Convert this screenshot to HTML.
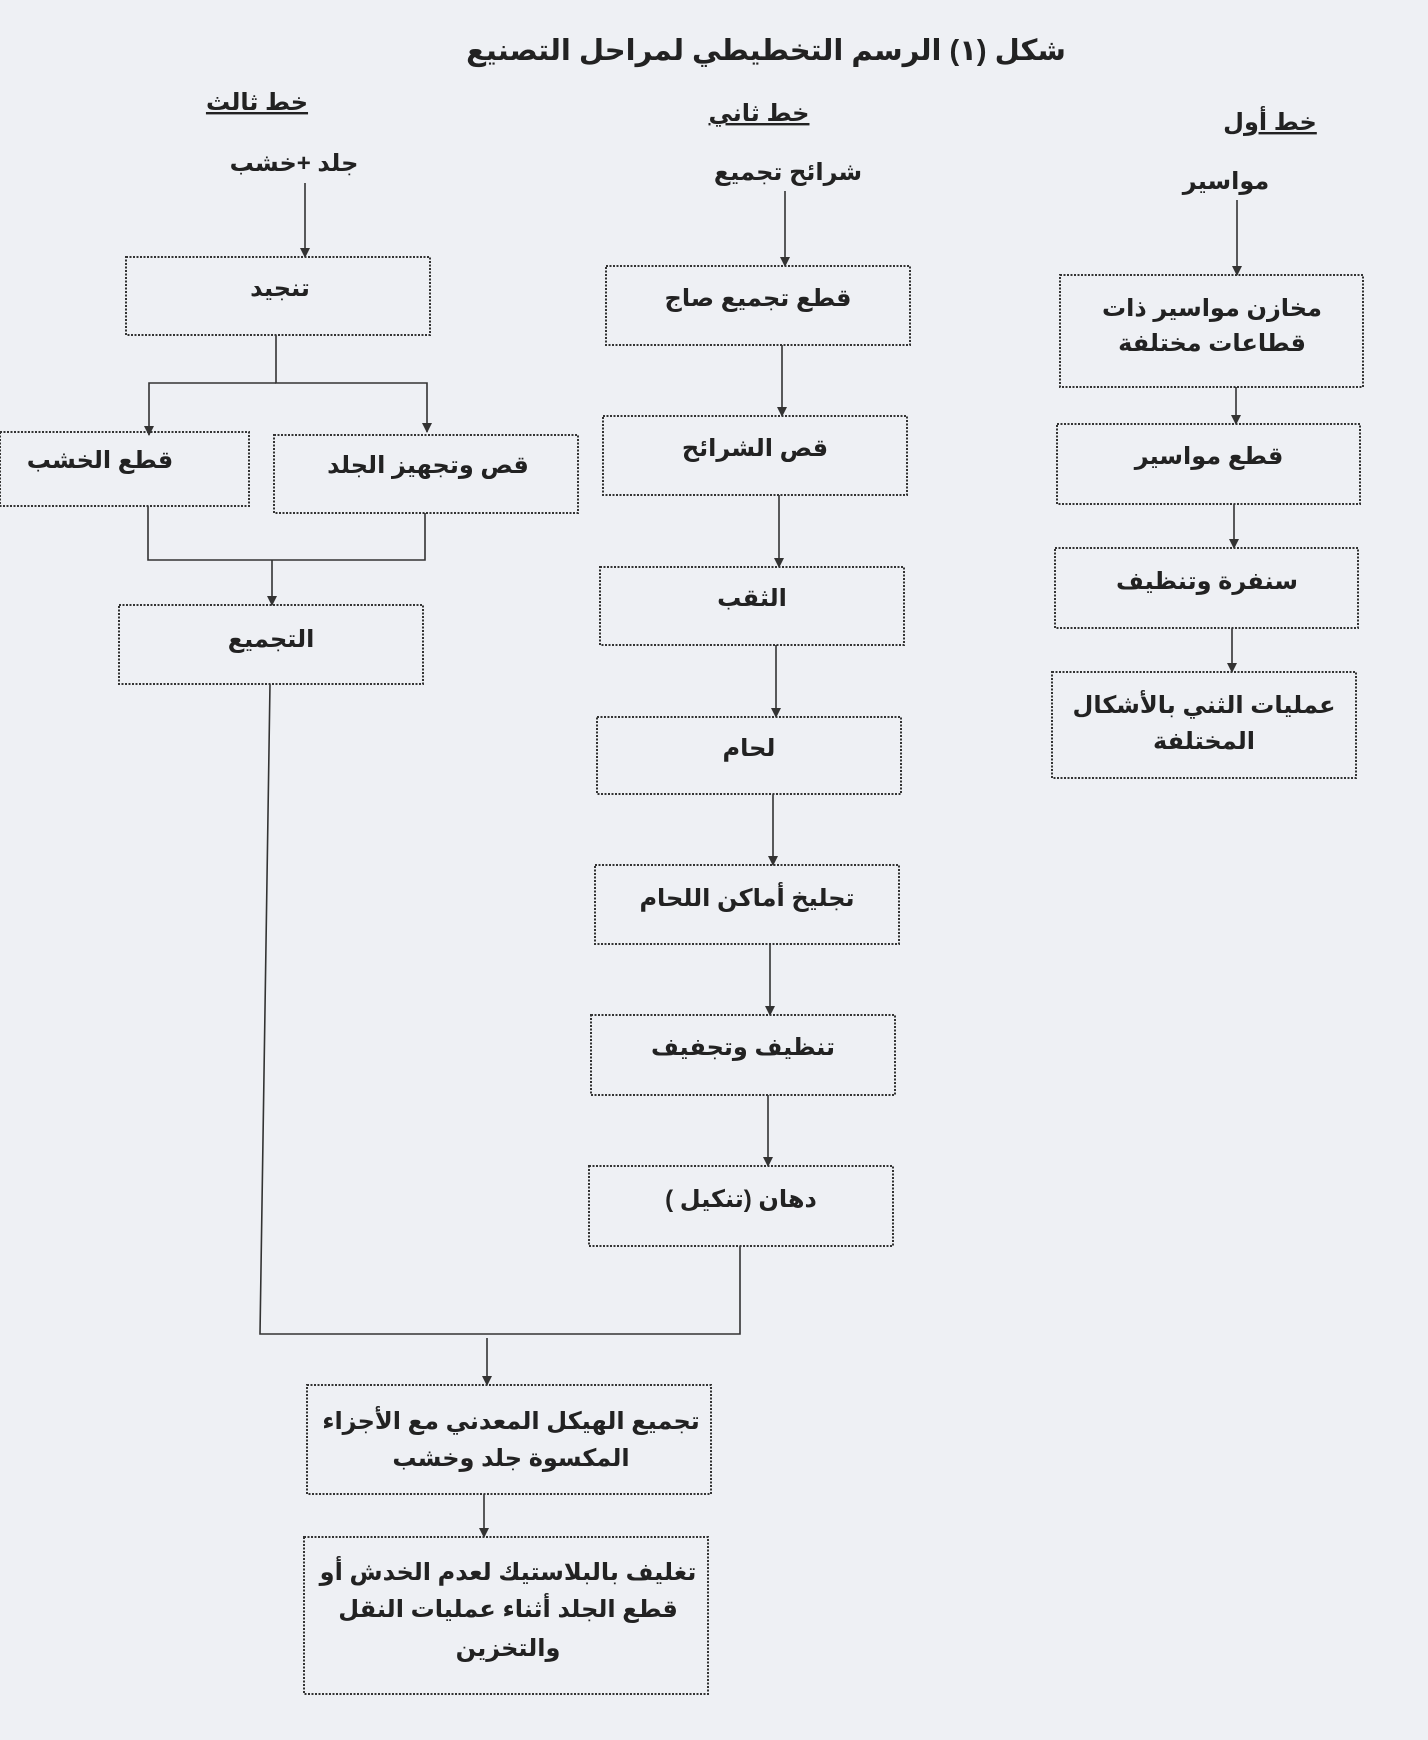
<!DOCTYPE html>
<html><head><meta charset="utf-8"><style>
html,body{margin:0;padding:0;background:#eef0f4;}
svg{display:block}
text{font-family:"Liberation Sans","DejaVu Sans","Noto Sans CJK SC",sans-serif;font-weight:bold;fill:#222;text-anchor:middle;direction:rtl;font-size:24px}
.b{fill:none;stroke:#333;stroke-width:2;stroke-dasharray:2 1.5}
.l{stroke:#333;stroke-width:1.6;fill:none}
</style></head><body>
<svg width="1428" height="1740" viewBox="0 0 1428 1740" xmlns="http://www.w3.org/2000/svg">
<defs><marker id="a" viewBox="0 0 10 10" refX="9" refY="5" markerWidth="10" markerHeight="10" markerUnits="userSpaceOnUse" orient="auto"><path d="M0,0L10,5L0,10z" fill="#333"/></marker></defs>
<text x="766" y="60" style="font-size:29px">شكل (١) الرسم التخطيطي لمراحل التصنيع</text>
<text x="257" y="110" text-decoration="underline">خط ثالث</text>
<text x="759" y="121" text-decoration="underline">خط ثاني</text>
<text x="1270" y="130" text-decoration="underline">خط أول</text>
<text x="294" y="171">جلد +خشب</text>
<text x="788" y="180">شرائح تجميع</text>
<text x="1226" y="189">مواسير</text>
<g class="l">
<path d="M305 183V257" marker-end="url(#a)"/>
<path d="M785 191V266" marker-end="url(#a)"/>
<path d="M1237 200V275" marker-end="url(#a)"/>
<path d="M276 335V383H427V432" marker-end="url(#a)"/>
<path d="M276 383H149V435" marker-end="url(#a)"/>
<path d="M148 506V560H425V513"/>
<path d="M272 560V605" marker-end="url(#a)"/>
<path d="M782 345V416" marker-end="url(#a)"/>
<path d="M779 495V567" marker-end="url(#a)"/>
<path d="M776 645V717" marker-end="url(#a)"/>
<path d="M773 794V865" marker-end="url(#a)"/>
<path d="M770 944V1015" marker-end="url(#a)"/>
<path d="M768 1095V1166" marker-end="url(#a)"/>
<path d="M1236 387V424" marker-end="url(#a)"/>
<path d="M1234 504V548" marker-end="url(#a)"/>
<path d="M1232 628V672" marker-end="url(#a)"/>
<path d="M270 684L260 1334H740V1246"/>
<path d="M487 1338V1385" marker-end="url(#a)"/>
<path d="M484 1494V1537" marker-end="url(#a)"/>
</g>
<g class="b">
<rect x="126" y="257" width="304" height="78"/>
<rect x="0" y="432" width="249" height="74"/>
<rect x="274" y="435" width="304" height="78"/>
<rect x="119" y="605" width="304" height="79"/>
<rect x="606" y="266" width="304" height="79"/>
<rect x="603" y="416" width="304" height="79"/>
<rect x="600" y="567" width="304" height="78"/>
<rect x="597" y="717" width="304" height="77"/>
<rect x="595" y="865" width="304" height="79"/>
<rect x="591" y="1015" width="304" height="80"/>
<rect x="589" y="1166" width="304" height="80"/>
<rect x="1060" y="275" width="303" height="112"/>
<rect x="1057" y="424" width="303" height="80"/>
<rect x="1055" y="548" width="303" height="80"/>
<rect x="1052" y="672" width="304" height="106"/>
<rect x="307" y="1385" width="404" height="109"/>
<rect x="304" y="1537" width="404" height="157"/>
</g>
<text x="280" y="296">تنجيد</text>
<text x="100" y="468">قطع الخشب</text>
<text x="428" y="473">قص وتجهيز الجلد</text>
<text x="271" y="647">التجميع</text>
<text x="758" y="306">قطع تجميع صاج</text>
<text x="755" y="456">قص الشرائح</text>
<text x="752" y="606">الثقب</text>
<text x="749" y="756">لحام</text>
<text x="747" y="906">تجليخ أماكن اللحام</text>
<text x="743" y="1055">تنظيف وتجفيف</text>
<text x="741" y="1207">دهان (تنكيل )</text>
<text x="1212" y="316">مخازن مواسير ذات</text>
<text x="1212" y="351">قطاعات مختلفة</text>
<text x="1209" y="464">قطع مواسير</text>
<text x="1207" y="589">سنفرة وتنظيف</text>
<text x="1204" y="713">عمليات الثني بالأشكال</text>
<text x="1204" y="749">المختلفة</text>
<text x="511" y="1429">تجميع الهيكل المعدني مع الأجزاء</text>
<text x="511" y="1466">المكسوة جلد وخشب</text>
<text x="508" y="1580">تغليف بالبلاستيك لعدم الخدش أو</text>
<text x="508" y="1617">قطع الجلد أثناء عمليات النقل</text>
<text x="508" y="1656">والتخزين</text>
</svg>
</body></html>
